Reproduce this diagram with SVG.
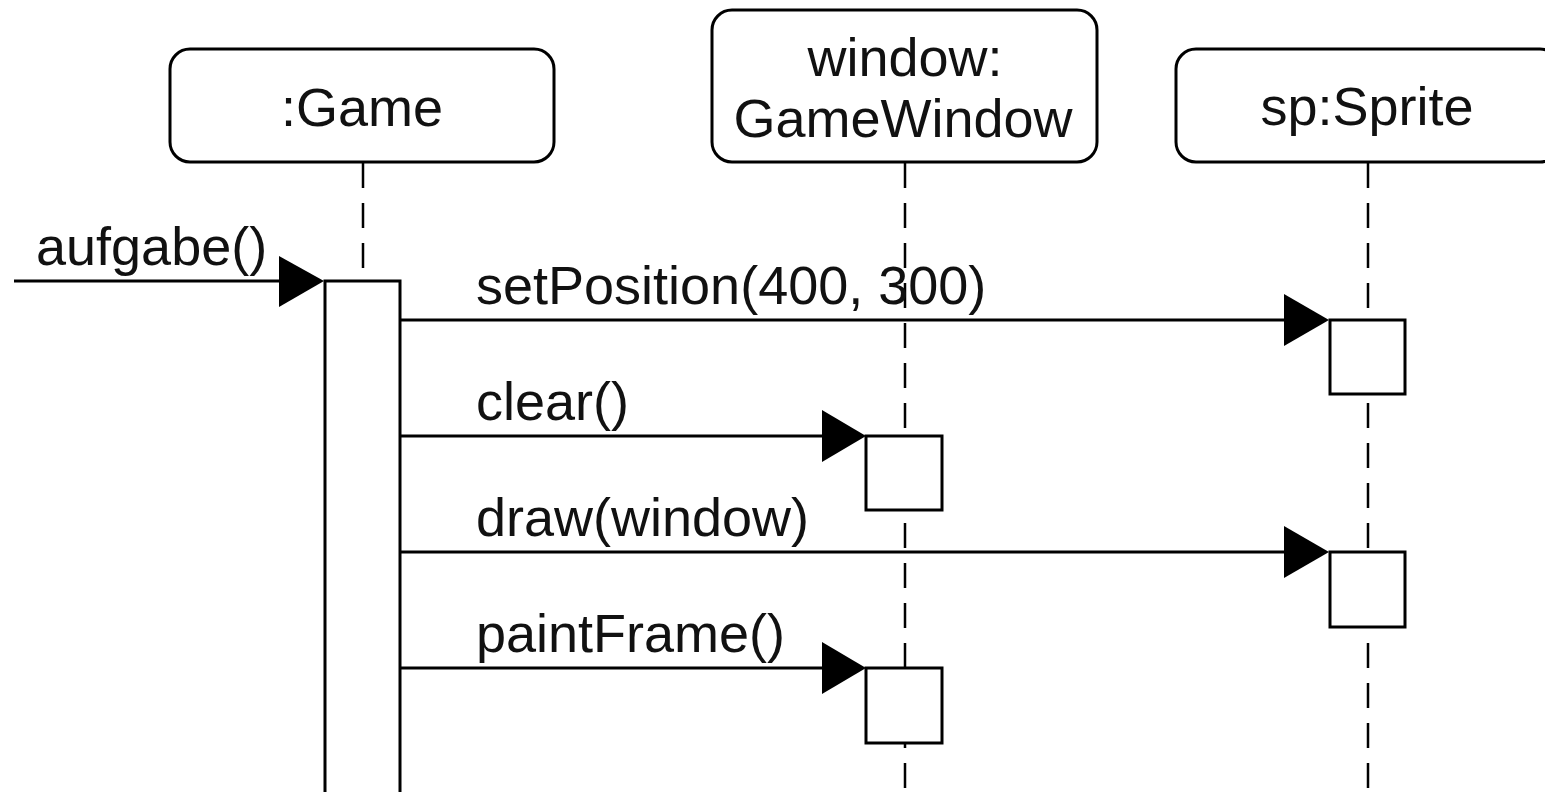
<svg xmlns="http://www.w3.org/2000/svg" width="1545" height="792" viewBox="0 0 1545 792">
<defs>
<style>
.hdr{fill:#fff;stroke:#000;stroke-width:3}
.act{fill:#fff;stroke:#000;stroke-width:3}
.life{stroke:#000;stroke-width:2.5;stroke-dasharray:25 15;fill:none}
.msg{stroke:#000;stroke-width:3;fill:none}
.head{fill:#000;stroke:none}
text{font-family:"Liberation Sans",Arial,sans-serif;font-size:54px;fill:#111}
.c{text-anchor:middle}
</style>
</defs>
<rect width="1545" height="792" fill="#fff"/>
<g id="lifelines">
<line class="life" x1="363" y1="163" x2="363" y2="281"/>
<line class="life" x1="905" y1="163" x2="905" y2="792"/>
<line class="life" x1="1368" y1="163" x2="1368" y2="792"/>
</g>
<g id="game">
<rect class="hdr" x="170" y="49" width="384" height="113" rx="20"/>
<text class="c" x="362" y="126">:Game</text>
<rect class="act" x="325" y="281" width="75" height="530"/>
</g>
<g id="window">
<rect class="hdr" x="712" y="10" width="385" height="152" rx="20"/>
<text class="c" x="905" y="76">window:</text>
<text class="c" x="903" y="137">GameWindow</text>
<rect class="act" x="866" y="436" width="76" height="74"/>
<rect class="act" x="866" y="668" width="76" height="75"/>
</g>
<g id="sprite">
<rect class="hdr" x="1176" y="49" width="384" height="113" rx="20"/>
<text class="c" x="1367" y="125">sp:Sprite</text>
<rect class="act" x="1330" y="320" width="75" height="74"/>
<rect class="act" x="1330" y="552" width="75" height="75"/>
</g>
<g id="connectors">
<line class="msg" x1="14" y1="281" x2="290" y2="281"/>
<polygon class="head" points="279,256 324,281 279,307"/>
<text x="36" y="265">aufgabe()</text>
<line class="msg" x1="400" y1="320" x2="1290" y2="320"/>
<polygon class="head" points="1284,294 1329,320 1284,346"/>
<text x="476" y="304">setPosition(400, 300)</text>
<line class="msg" x1="400" y1="436" x2="828" y2="436"/>
<polygon class="head" points="822,410 866,436 822,462"/>
<text x="476" y="420">clear()</text>
<line class="msg" x1="400" y1="552" x2="1290" y2="552"/>
<polygon class="head" points="1284,526 1329,552 1284,578"/>
<text x="476" y="536">draw(window)</text>
<line class="msg" x1="400" y1="668" x2="828" y2="668"/>
<polygon class="head" points="822,642 866,668 822,694"/>
<text x="476" y="652">paintFrame()</text>
</g>
</svg>
